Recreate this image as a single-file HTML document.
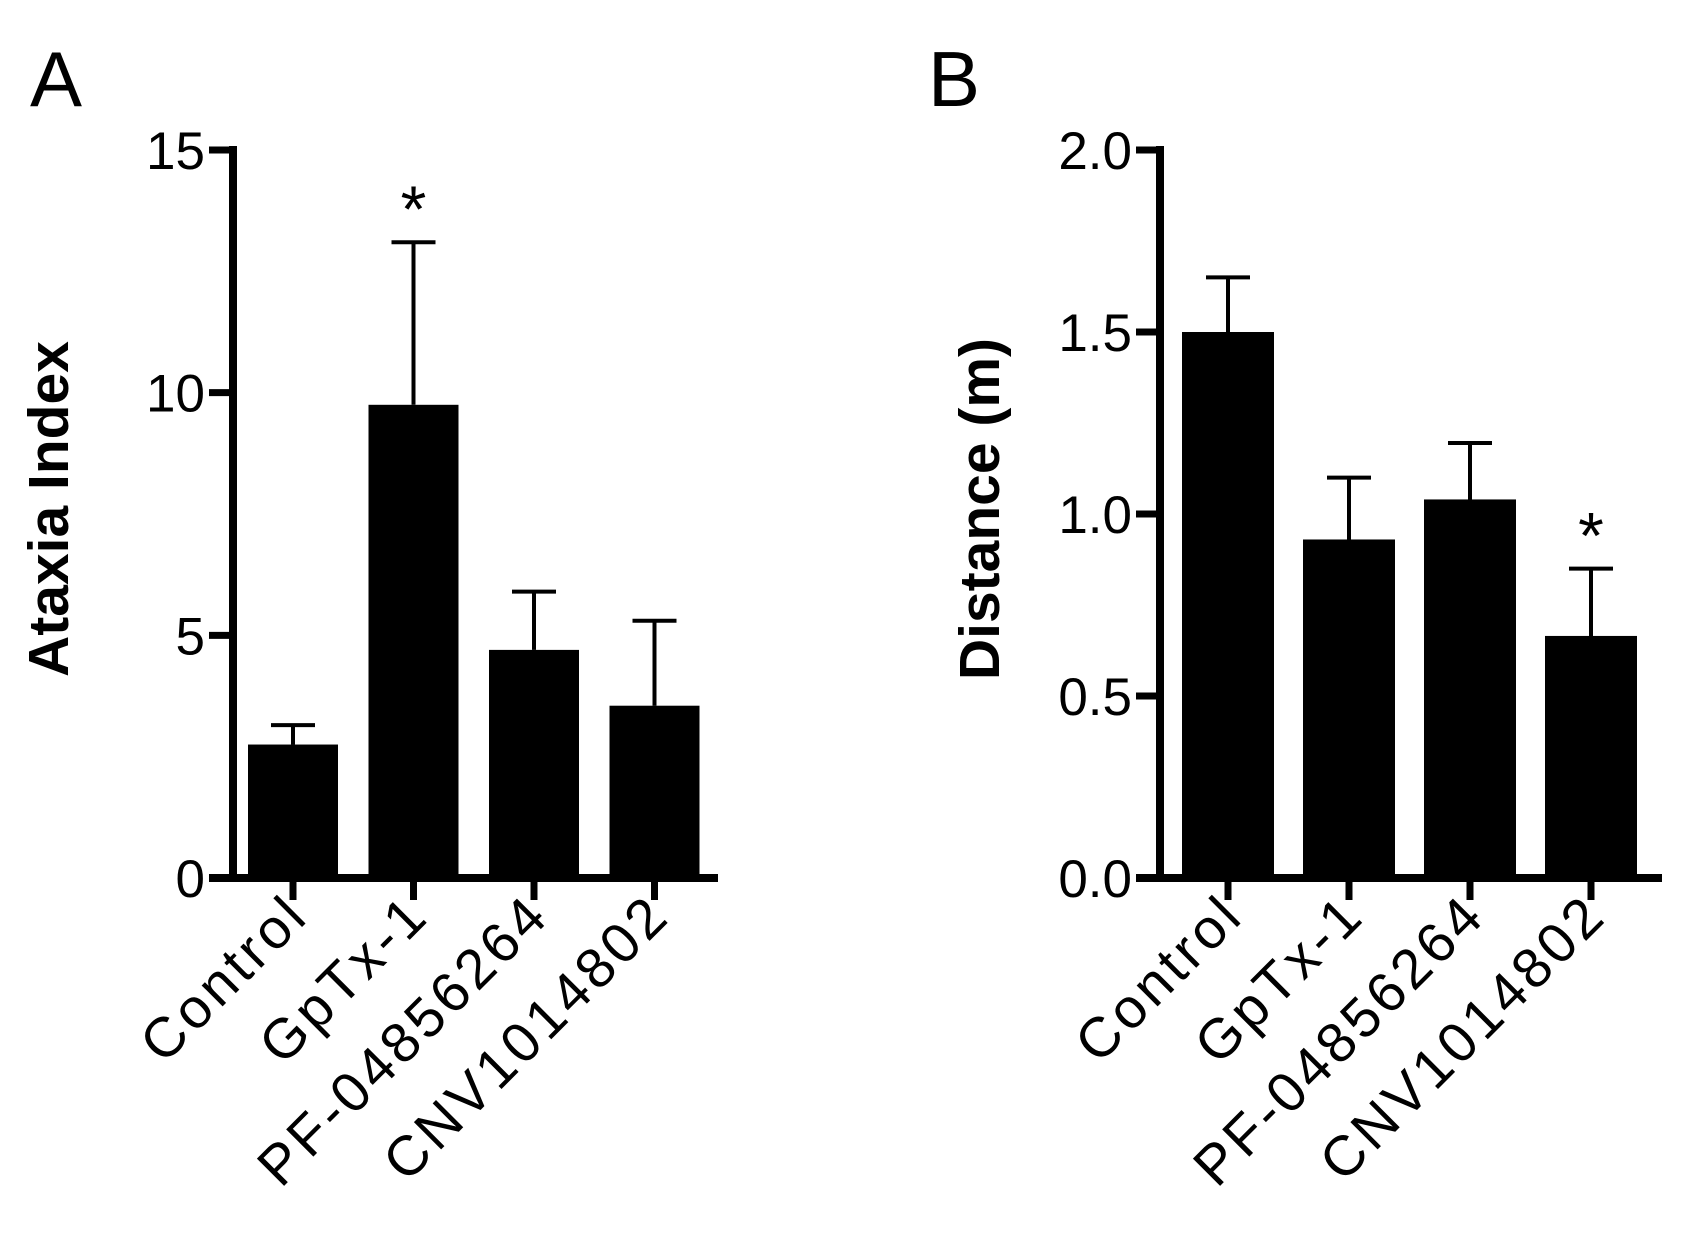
<!DOCTYPE html>
<html><head><meta charset="utf-8"><style>
html,body{margin:0;padding:0;background:#fff;}
svg{display:block;font-family:"Liberation Sans",Arial,sans-serif;}
</style></head><body>
<svg id="chart" width="1691" height="1244" viewBox="0 0 1691 1244">
<text x="30" y="106" font-size="78">A</text>
<text x="928" y="106" font-size="78">B</text>
</svg>
<script>
const categories = ["Control","GpTx-1","PF-04856264","CNV1014802"];
const ataxiaValues = [2.75, 9.75, 4.7, 3.55];
const ataxiaErrors = [0.4, 3.35, 1.2, 1.75];
const ataxiaTicks = [0, 5, 10, 15];
const ataxiaTickLabels = ["0","5","10","15"];
const distanceValues = [1.5, 0.93, 1.04, 0.665];
const distanceErrors = [0.15, 0.17, 0.155, 0.185];
const distanceTicks = [0, 0.5, 1.0, 1.5, 2.0];
const distanceTickLabels = ["0.0","0.5","1.0","1.5","2.0"];
const ataxiaSig = [false, true, false, false];
const distanceSig = [false, false, false, true];

const NS = "http://www.w3.org/2000/svg";
const svg = document.getElementById('chart');
function mk(tag, attrs, parent){ const e=document.createElementNS(NS,tag); for(const k in attrs) e.setAttribute(k,attrs[k]); (parent||svg).appendChild(e); return e; }

function panel(p){
  const g = mk('g',{});
  
  
  const y = v => p.y0 - v / p.max * (p.y0 - p.y1);
  const x = i => p.first + p.step * i;
  categories.forEach((c,i)=>{
    const bw = p.bw;
    const top = y(p.vals[i]);
    const b = mk('rect',{x:x(i)-bw/2, y:top, width:bw, height:p.y0-top, fill:'#000'}, g);
    
    
    const et = y(p.vals[i] + p.errs[i]);
    const e = mk('path',{d:`M${x(i)} ${top} V${et} M${x(i)-22} ${et} H${x(i)+22}`, stroke:'#000','stroke-width':4, fill:'none'}, g);
    
    
    if(p.sig[i]){
      const s = mk('text',{x:x(i), y:et-10, 'font-size':66, 'text-anchor':'middle'}, g);
      s.textContent='*';
      
      
    }
    const t = mk('path',{d:`M${x(i)} ${p.y0} V${p.y0+22}`, stroke:'#000','stroke-width':7}, g);
    
    
    const lx = x(i)+18, ly = p.y0+40;
    const l = mk('text',{x:lx, y:ly, 'font-size':56, 'letter-spacing':4, 'text-anchor':'end', transform:`rotate(-45 ${lx} ${ly})`}, g);
    l.textContent = c;
    
    
  });
  const ya = mk('path',{d:`M${p.ax} ${y(p.max)-4} V${p.y0}`, stroke:'#000','stroke-width':8}, g);
  
  
  const xa = mk('path',{d:`M${p.ax-24} ${p.y0} H${p.xEnd}`, stroke:'#000','stroke-width':8}, g);
  
  
  p.ticks.forEach((v,j)=>{
    const tk = mk('path',{d:`M${p.ax-24} ${y(v)} H${p.ax}`, stroke:'#000','stroke-width':7}, g);
    
    
    const tl = mk('text',{x:p.ax-28, y:y(v)+19, 'font-size':53, 'text-anchor':'end'}, g);
    tl.textContent = p.tickLabels[j];
    
    
  });
  const tx = p.titleX, ty = (p.y0 + y(p.max))/2 - 5;
  const tt = mk('text',{x:tx, y:ty, 'font-size':57, 'font-weight':'bold', 'text-anchor':'middle', transform:`rotate(-90 ${tx} ${ty})`}, g);
  tt.textContent = p.title;
  
  
}

panel({id:'ataxia', ax:233, first:293, step:120.5, bw:90, xEnd:718, y0:878, y1:150, max:15, vals:ataxiaValues, errs:ataxiaErrors, ticks:ataxiaTicks, tickLabels:ataxiaTickLabels, sig:ataxiaSig, title:'Ataxia Index', titleX:68});
panel({id:'distance', ax:1160, first:1236-8, step:121, bw:92, xEnd:1662, y0:878, y1:150, max:2.0, vals:distanceValues, errs:distanceErrors, ticks:distanceTicks, tickLabels:distanceTickLabels, sig:distanceSig, title:'Distance (m)', titleX:999});
</script>
</body></html>
